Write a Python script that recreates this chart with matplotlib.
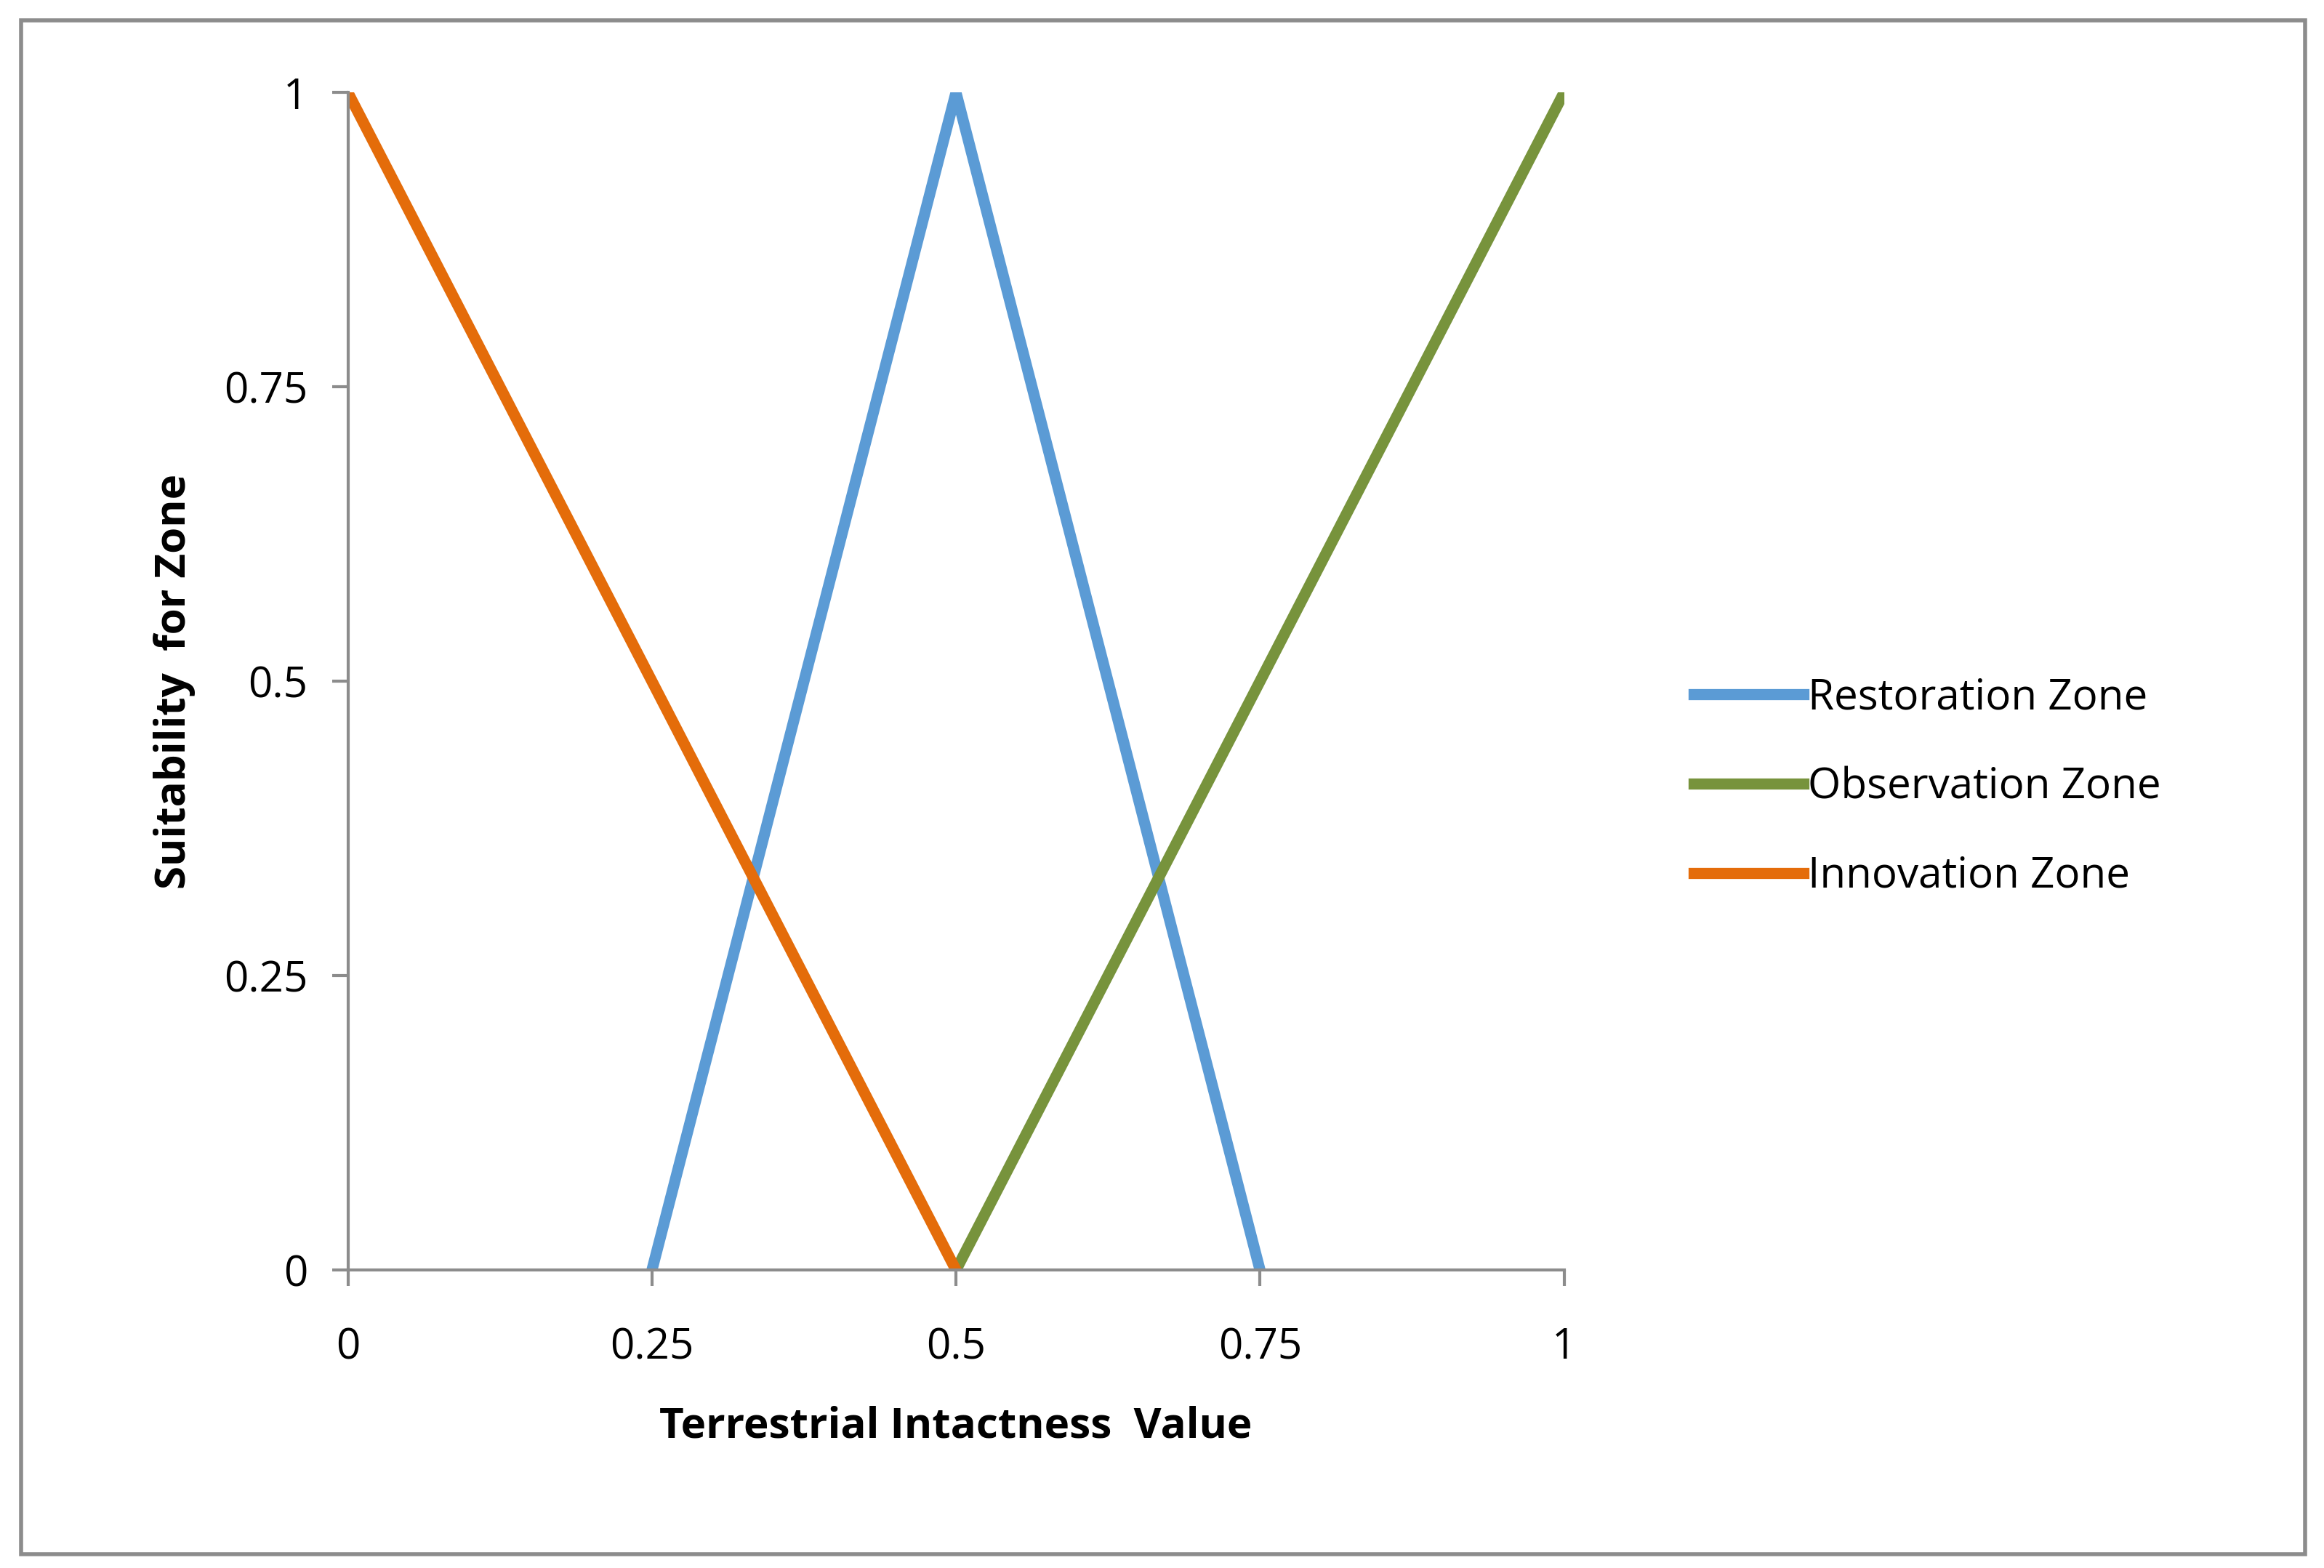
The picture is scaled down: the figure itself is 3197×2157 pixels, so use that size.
import matplotlib
matplotlib.use("Agg")
import matplotlib.pyplot as plt
from matplotlib.patches import Rectangle

# data
restoration_x = [0.25, 0.5, 0.75]
restoration_y = [0, 1, 0]
observation_x = [0.5, 1.0]
observation_y = [0, 1]
innovation_x = [0.0, 0.5]
innovation_y = [1, 0]
ticks = [0, 0.25, 0.5, 0.75, 1]
tick_labels = ["0", "0.25", "0.5", "0.75", "1"]

plt.rcParams['font.family'] = ['Open Sans', 'DejaVu Sans']

fig = plt.figure(figsize=(15.985, 10.785), dpi=200)
fig.patches.append(Rectangle((0.009, 0.009), 0.983, 0.978, transform=fig.transFigure,
                             fill=False, edgecolor='#8c8c8c', linewidth=2))
ax = fig.add_axes([0.1497, 0.190, 0.5233, 0.751])

lw = 5.5
ax.plot(restoration_x, restoration_y, color='#5B9BD5', lw=lw, label='Restoration Zone')
ax.plot(observation_x, observation_y, color='#77933C', lw=lw, label='Observation Zone')
ax.plot(innovation_x, innovation_y, color='#E46C0A', lw=lw, label='Innovation Zone')

ax.set_xlim(0, 1)
ax.set_ylim(0, 1)
ax.set_xticks(ticks)
ax.set_xticklabels(tick_labels)
ax.set_yticks(ticks)
ax.set_yticklabels(tick_labels)
for s in ['top', 'right']:
    ax.spines[s].set_visible(False)
for s in ['left', 'bottom']:
    ax.spines[s].set_color('#8c8c8c')
    ax.spines[s].set_linewidth(1.5)
ax.tick_params(direction='out', length=8, width=1.5, color='#8c8c8c', labelsize=21, pad=12)
ax.tick_params(axis='x', pad=20)

ax.set_xlabel('Terrestrial Intactness  Value', fontsize=21, fontweight='bold', labelpad=18)
ax.set_ylabel('Suitability  for Zone', fontsize=21, fontweight='bold', labelpad=14)

ax.legend(loc='center left', bbox_to_anchor=(1.075, 0.41), frameon=False, fontsize=21,
          handlelength=2.6, handletextpad=0.1, labelspacing=1.1)

fig.savefig('out.png', dpi=200)
